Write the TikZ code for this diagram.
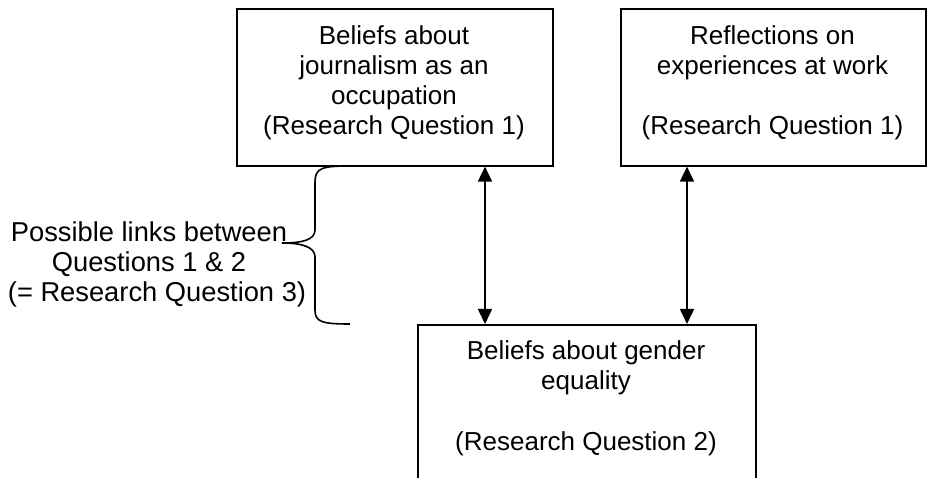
\documentclass[tikz,border=0pt]{standalone}
\usepackage{fontspec}
\setmainfont{Liberation Sans}
\usetikzlibrary{arrows.meta}
\begin{document}
\begin{tikzpicture}[x=1pt,y=-1pt,
  frame/.style={draw, line width=1.6pt, inner sep=0pt, anchor=north west},
  txt/.style={align=center, inner sep=0pt, anchor=base,
    font=\fontsize{26}{30.3}\selectfont},
  notetxt/.style={txt, font=\fontsize{27.3}{30}\selectfont},
  link/.style={line width=1.6pt,
    {Triangle[length=15pt,width=14pt]}-{Triangle[length=15pt,width=14pt]}},
  bracket/.style={line width=1.6pt}]
\useasboundingbox (0,0) rectangle (927,478);
\clip (0,0) rectangle (927,478);

% boxes
\node[frame, minimum width=316pt, minimum height=157pt] (occ) at (236,8) {};
\node[frame, minimum width=305pt, minimum height=157pt] (work) at (620,8) {};
\node[frame, minimum width=338pt, minimum height=200pt] (gender) at (417,324) {};

% box texts (placed by the baseline of their last line)
\node[txt] (occtext) at (394,135)
  {Beliefs about\\journalism as an\\occupation\\(Research Question 1)};
\node[txt] (worktext) at (772.5,135)
  {Reflections on\\experiences at work\\[30.3pt](Research Question 1)};
\node[txt] (gendertext) at (586,450)
  {Beliefs about gender\\equality\\[30.3pt](Research Question 2)};

% side note with its brace
\node[notetxt] (note) at (149,302)
  {Possible links between\\Questions 1 \& 2\\\hspace*{16pt}(= Research Question 3)};
\draw[bracket] (350,166) .. controls (322,166) and (315,168) .. (315,182)
  -- (315,230) .. controls (315,240) and (302,243) .. (282,243)
  .. controls (302,243) and (315,247) .. (315,257)
  -- (315,310) .. controls (315,322) and (322,324) .. (350,324);

% two-way links
\coordinate (leftx) at (485,0);
\coordinate (rightx) at (687,0);
\draw[link] (occ.south -| leftx) -- (gender.north -| leftx);
\draw[link] (work.south -| rightx) -- (gender.north -| rightx);
\end{tikzpicture}
\end{document}
